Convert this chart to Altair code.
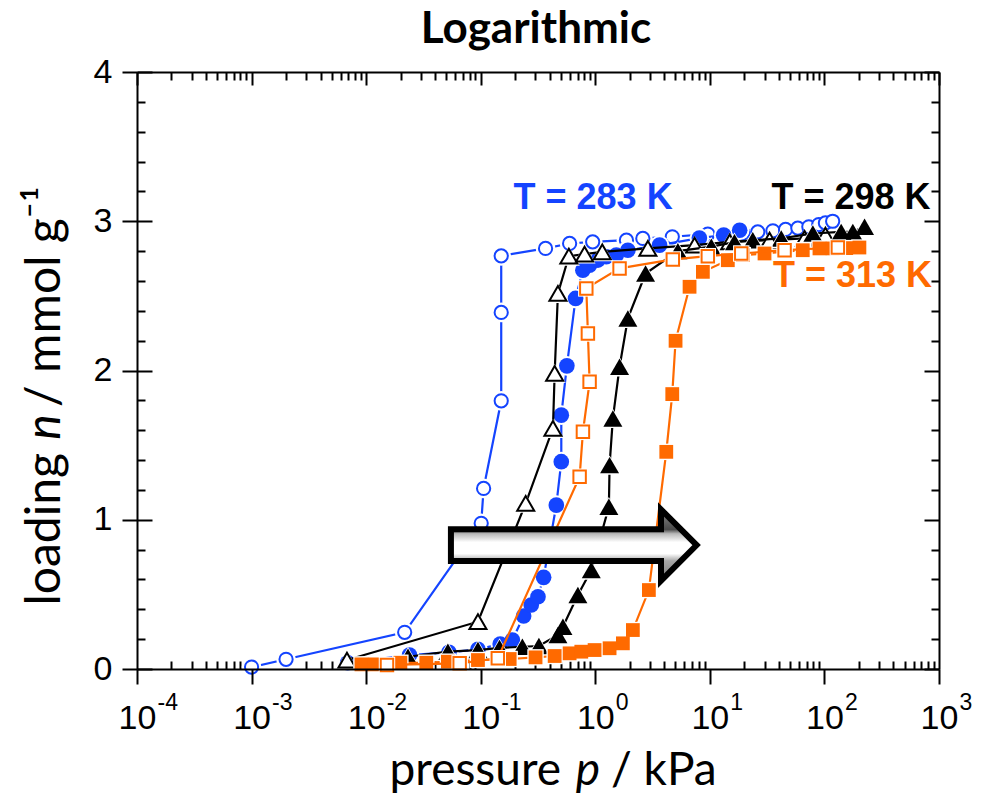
import altair as alt
import pandas as pd

# ---------------- data ----------------
# 283 K, desorption (open circles)
P_283_DES = [0.001, 0.002, 0.0217, 0.101, 0.106, 0.151, 0.151, 0.151, 0.368, 0.597, 0.949, 1.87, 2.6,
             4.7, 9.6, 19.4, 26.2, 35.5, 45.8, 58.6, 73.1, 89.3, 102, 118]
N_283_DES = [0.013, 0.065, 0.246, 0.976, 1.21, 1.797, 2.389, 2.768, 2.818, 2.851, 2.862, 2.873, 2.885,
             2.896, 2.914, 2.922, 2.929, 2.936, 2.945, 2.954, 2.963, 2.978, 2.989, 3.0]
# 283 K, adsorption (filled circles)
P_283_ADS = [0.0069, 0.0239, 0.0528, 0.0946, 0.148, 0.189, 0.237, 0.276, 0.316, 0.354, 0.457, 0.505, 0.505,
             0.565, 0.673, 0.779, 0.890, 1.054, 1.247, 1.525, 1.925, 3.64, 8.1, 13.2, 18.2]
N_283_ADS = [0.042, 0.094, 0.112, 0.132, 0.167, 0.194, 0.355, 0.429, 0.484, 0.614, 1.098, 1.389, 1.701,
             2.031, 2.483, 2.672, 2.706, 2.740, 2.762, 2.773, 2.806, 2.84, 2.887, 2.907, 2.94]
# 298 K, desorption (open triangles)
P_298_DES = [0.0068, 0.0946, 0.247, 0.427, 0.442, 0.472, 0.588, 0.806, 1.151, 2.877, 7.36, 14.9, 33.2, 67.1, 102]
N_298_DES = [0.060, 0.317, 1.11, 1.612, 1.981, 2.516, 2.766, 2.780, 2.795, 2.818, 2.84, 2.862, 2.873, 2.885, 2.907]
# 298 K, adsorption (filled triangles)
P_298_ADS = [0.0232, 0.0517, 0.0946, 0.146, 0.231, 0.322, 0.472, 0.522, 0.705, 0.923, 1.314, 1.333, 1.424,
             1.629, 1.925, 2.748, 5.26, 10.3, 16.4, 23.7, 42, 79.3, 140, 177, 224]
N_298_ADS = [0.082, 0.116, 0.127, 0.141, 0.149, 0.154, 0.228, 0.283, 0.496, 0.663, 1.087, 1.366, 1.679,
             2.025, 2.349, 2.650, 2.80, 2.83, 2.86, 2.873, 2.885, 2.918, 2.929, 2.929, 2.963]
# 313 K, desorption (open squares)
P_313_DES = [0.0152, 0.0655, 0.141, 0.730, 0.780, 0.892, 0.862, 0.835, 1.629, 4.75, 9.60, 18.8, 44.9, 131]
N_313_DES = [0.027, 0.038, 0.072, 1.288, 1.589, 1.924, 2.248, 2.550, 2.684, 2.744, 2.766, 2.784, 2.806, 2.824]
# 313 K, adsorption (filled squares)
P_313_ADS = [0.0091, 0.0119, 0.0199, 0.0335, 0.0517, 0.0946, 0.179, 0.301, 0.442, 0.597, 0.755, 0.986, 1.333,
             1.741, 2.128, 2.936, 4.165, 4.697, 5.02, 6.65, 8.69, 14.35, 19.4, 30.0, 64.7, 90.5, 118, 155, 202]
N_313_ADS = [0.031, 0.031, 0.042, 0.042, 0.049, 0.060, 0.067, 0.078, 0.087, 0.105, 0.116, 0.127, 0.139,
             0.172, 0.261, 0.529, 1.455, 1.842, 2.199, 2.561, 2.661, 2.739, 2.773, 2.784, 2.806, 2.818, 2.818,
             2.82, 2.824]

# temperature labels
LABEL_TEXT = ["T = 283 K", "T = 298 K", "T = 313 K"]
LABEL_P = [0.957, 170.6, 175.7]
LABEL_N = [3.158, 3.158, 2.632]
LABEL_COLOR = ["#1444ff", "#000000", "#ff6a00"]

TITLE = ["Logarithmic"]
X_TITLE_PARTS = ["pressure", "p", "/ kPa"]
Y_TITLE_PARTS = ["loading", "n", "/ mmol g\u207b\u00b9"]

# arrow annotation (centre, in data units)
ARROW_P = [0.649]
ARROW_N = [0.83]

# axis ticks
X_MAJOR = [10.0 ** e for e in range(-4, 4)]
X_MINOR = [m * 10.0 ** e for e in range(-4, 3) for m in range(2, 10)]
Y_MAJOR = [0, 1, 2, 3, 4]
Y_MINOR = [round(0.2 * k, 1) for k in range(1, 20) if k % 5]

BLUE = "#1444ff"
BLACK = "#000000"
ORANGE = "#ff6a00"

W, H = 802, 597

X_SCALE = alt.Scale(type="log", domain=[1e-4, 1e3], nice=False)
Y_SCALE = alt.Scale(domain=[0, 4], nice=False, zero=False)


def frame(p, n):
    return pd.DataFrame({"p": p, "n": n, "i": list(range(len(p)))})


ALL = pd.concat([frame(P_283_DES, N_283_DES), frame(P_313_ADS, N_313_ADS)])


def axis_layer(xaxis, yaxis):
    return alt.Chart(ALL).mark_point(opacity=0).encode(
        x=alt.X("p:Q", scale=X_SCALE, axis=xaxis),
        y=alt.Y("n:Q", scale=Y_SCALE, axis=yaxis),
    )


common = dict(tickColor="black", domainColor="black", tickWidth=2, domainWidth=2, grid=False)
no_lab = dict(labels=False, title=None)

main_axes = axis_layer(
    alt.Axis(orient="bottom", values=X_MAJOR, tickSize=15, labelExpr="'10'",
             labelFont="Liberation Sans", labelFontSize=34, labelColor="black",
             labelAlign="center", labelBaseline="alphabetic", labelPadding=44,
             labelFlush=False, labelOverlap=False, title=None, zindex=1, **common),
    alt.Axis(orient="left", values=Y_MAJOR, tickSize=15, format="d",
             labelFont="Liberation Sans", labelFontSize=34, labelColor="black", labelPadding=10,
             labelFlush=False, labelOverlap=False, title=None, zindex=1, **common),
)
# exponents of the decade labels, set as raised smaller text
exp_axis = axis_layer(
    alt.Axis(orient="bottom", values=X_MAJOR, tickSize=15, tickOpacity=0, domain=False,
             labelExpr="'' + round(log(datum.value)/LN10)",
             labelFont="Liberation Sans", labelFontSize=23, labelColor="black",
             labelAlign="left", labelOffset=20, labelBaseline="alphabetic", labelPadding=25,
             labelFlush=False, labelOverlap=False, title=None, grid=False),
    None,
)
axes2 = axis_layer(
    alt.Axis(orient="top", offset=-H, values=X_MINOR, tickSize=8, domain=False, **no_lab, **common),
    alt.Axis(orient="right", offset=-W, values=Y_MAJOR, tickSize=15, domain=False, **no_lab, **common),
)
axes3 = axis_layer(
    alt.Axis(orient="bottom", offset=-H, values=X_MINOR, tickSize=8, domain=True, **no_lab, **common),
    alt.Axis(orient="right", offset=-W, values=Y_MINOR, tickSize=8, domain=False, **no_lab, **common),
)
axes4 = axis_layer(
    alt.Axis(orient="bottom", offset=-H, values=X_MAJOR, tickSize=13, domain=False, **no_lab, **common),
    alt.Axis(orient="left", offset=-W, values=Y_MAJOR, tickSize=15, domain=True, **no_lab, **common),
)
axes5 = axis_layer(
    None,
    alt.Axis(orient="left", offset=-W, values=Y_MINOR, tickSize=8, domain=False, **no_lab, **common),
)


def series(p, n, color, shape, filled, size, halo):
    base = alt.Chart(frame(p, n)).encode(
        x=alt.X("p:Q", scale=X_SCALE, axis=None),
        y=alt.Y("n:Q", scale=Y_SCALE, axis=None),
    )
    line = base.mark_line(color=color, strokeWidth=2.2).encode(order=alt.Order("i:Q"))
    hal = base.mark_point(shape=shape, filled=True, color="white", size=halo, opacity=1)
    if filled:
        pts = base.mark_point(shape=shape, filled=True, color=color, size=size, opacity=1)
    else:
        pts = base.mark_point(shape=shape, filled=False, fill="white", fillOpacity=1, stroke=color,
                              strokeWidth=2, size=size, opacity=1)
    return [line, hal, pts]


layers = []
layers += series(P_283_DES, N_283_DES, BLUE, "circle", False, 175, 390)
layers += series(P_283_ADS, N_283_ADS, BLUE, "circle", True, 245, 390)
layers += series(P_298_DES, N_298_DES, BLACK, "triangle-up", False, 290, 480)
layers += series(P_298_ADS, N_298_ADS, BLACK, "triangle-up", True, 360, 500)
layers += series(P_313_ADS, N_313_ADS, ORANGE, "square", True, 190, 270)
layers += series(P_313_DES, N_313_DES, ORANGE, "square", False, 155, 270)

arrow_path = "M-1,-0.13L0.71,-0.13L0.71,-0.29L1,0L0.71,0.29L0.71,0.13L-1,0.13Z"
arrow_fill = alt.LinearGradient(
    gradient="linear", x1=0, x2=0, y1=0, y2=1,
    stops=[alt.GradientStop(color="#8a8a8a", offset=0),
           alt.GradientStop(color="#4a4a4a", offset=0.28),
           alt.GradientStop(color="#b8b8b8", offset=0.34),
           alt.GradientStop(color="#ffffff", offset=0.46),
           alt.GradientStop(color="#ffffff", offset=0.62),
           alt.GradientStop(color="#a8a8a8", offset=0.72),
           alt.GradientStop(color="#7a7a7a", offset=1)],
)
arrow = alt.Chart(pd.DataFrame({"p": ARROW_P, "n": ARROW_N})).mark_point(
    shape=arrow_path, size=60368, filled=True, fill=arrow_fill, stroke="black", strokeWidth=6,
    strokeJoin="miter", opacity=1,
).encode(
    x=alt.X("p:Q", scale=X_SCALE, axis=None),
    y=alt.Y("n:Q", scale=Y_SCALE, axis=None),
)

labels = alt.Chart(pd.DataFrame({"t": LABEL_TEXT, "p": LABEL_P, "n": LABEL_N, "c": LABEL_COLOR})).mark_text(
    font="Liberation Sans", fontSize=36, fontWeight="bold", align="center", baseline="middle",
).encode(
    x=alt.X("p:Q", scale=X_SCALE, axis=None),
    y=alt.Y("n:Q", scale=Y_SCALE, axis=None),
    text="t:N",
    color=alt.Color("c:N", scale=None),
)


def text_piece(txt, x, y, align, italic=False, angle=0, size=46, bold=False):
    mark = dict(font="Lato", fontSize=size, align=align, baseline="alphabetic", color="black",
                fontStyle="italic" if italic else "normal", fontWeight="bold" if bold else "normal")
    if angle:
        mark["angle"] = angle
    return alt.Chart(pd.DataFrame({"t": [txt]})).mark_text(**mark).encode(
        x=alt.value(x), y=alt.value(y), text="t:N")


title = text_piece(TITLE[0], W / 2 - 2, -29, "center", size=44, bold=True)

x_title = [
    text_piece(X_TITLE_PARTS[0], 424, 713, "right"),
    text_piece(X_TITLE_PARTS[1], 451, 713, "center", italic=True),
    text_piece(X_TITLE_PARTS[2], 474, 713, "left"),
]
y_title = [
    text_piece(Y_TITLE_PARTS[0], -77, 381, "right", angle=270, size=48),
    text_piece(Y_TITLE_PARTS[1], -77, 355, "center", italic=True, angle=270, size=48),
    text_piece(Y_TITLE_PARTS[2], -77, 335, "left", angle=270, size=48),
]

chart = alt.layer(
    main_axes, exp_axis, axes2, axes3, axes4, axes5, *layers, arrow, labels, title, *x_title, *y_title
).resolve_axis(
    x="independent", y="independent"
).properties(
    width=W, height=H,
    autosize=alt.AutoSizeParams(type="none"),
    padding={"left": 137, "top": 72, "right": 43, "bottom": 132},
).configure_view(stroke=None).configure(background="white")

chart.save("out.html", embed_options={"renderer": "svg", "actions": False})
